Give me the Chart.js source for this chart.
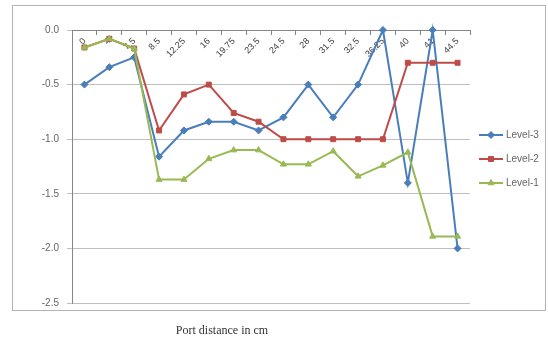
<!DOCTYPE html>
<html>
<head>
<meta charset="utf-8">
<script src="https://cdn.jsdelivr.net/npm/chart.js@4/dist/chart.umd.min.js"></script>
<style>
  html, body { margin: 0; padding: 0; background: #ffffff; }
  #wrap { position: relative; width: 548px; height: 343px; }
</style>
</head>
<body>
<div id="wrap"><canvas id="c" width="548" height="343"></canvas></div>
<script>
// Port positions along the duct (cm)
const categories = ["0", "4", "7.5", "8.5", "12.25", "16", "19.75", "23.5", "24.5", "28", "31.5", "32.5", "36.25", "40", "41", "44.5"];

// Measured values for each level
const level3 = [-0.5, -0.34, -0.25, -1.16, -0.92, -0.84, -0.84, -0.92, -0.8, -0.5, -0.8, -0.5, 0.0, -1.4, 0.0, -2.0];
const level2 = [-0.16, -0.08, -0.17, -0.92, -0.59, -0.5, -0.76, -0.84, -1.0, -1.0, -1.0, -1.0, -1.0, -0.3, -0.3, -0.3];
const level1 = [-0.16, -0.08, -0.17, -1.37, -1.37, -1.18, -1.1, -1.1, -1.23, -1.23, -1.11, -1.34, -1.24, -1.12, -1.89, -1.89];

const seriesNames = ["Level-3", "Level-2", "Level-1"];
const yTicks = [0, -0.5, -1.0, -1.5, -2.0, -2.5];
const xTitle = "Port distance in cm";

const BLUE = "#4A7EBB", RED = "#BE4B48", GREEN = "#98B954";

function series(label, data, color, style, radius, order) {
  return {
    label, data,
    borderColor: color, backgroundColor: color,
    borderWidth: 2,
    pointStyle: style, pointRadius: radius, pointHoverRadius: radius,
    pointBorderColor: color, pointBackgroundColor: color, pointBorderWidth: 1,
    tension: 0, clip: false, order
  };
}

// outer frame and the category-axis title
const framePlugin = {
  id: "frame",
  beforeDraw(chart) {
    const ctx = chart.ctx;
    ctx.save();
    ctx.fillStyle = "#ffffff";
    ctx.fillRect(0, 0, chart.width, chart.height);
    ctx.strokeStyle = "#b4b4b4";
    ctx.lineWidth = 1;
    ctx.strokeRect(12.5, 5.5, 533, 305);
    ctx.restore();
  },
  afterDraw(chart) {
    const ctx = chart.ctx;
    ctx.save();
    ctx.fillStyle = "#333333";
    ctx.font = "12px 'Liberation Serif', 'Times New Roman', serif";
    ctx.textAlign = "center";
    ctx.textBaseline = "middle";
    ctx.fillText(xTitle, 222, 331);
    ctx.restore();
  }
};

// side legend: line sample with marker, then the series name
const sideLegend = {
  id: "sideLegend",
  afterDraw(chart) {
    const ctx = chart.ctx;
    const x0 = 479, x1 = 503, textX = 506, yStart = 135, step = 24;
    ctx.save();
    chart.data.datasets.forEach((ds, i) => {
      const y = yStart + i * step;
      ctx.strokeStyle = ds.borderColor;
      ctx.lineWidth = 2;
      ctx.beginPath();
      ctx.moveTo(x0, y);
      ctx.lineTo(x1, y);
      ctx.stroke();
      ctx.fillStyle = ds.pointBackgroundColor;
      ctx.strokeStyle = ds.pointBorderColor;
      ctx.lineWidth = 1;
      Chart.helpers.drawPoint(ctx, { pointStyle: ds.pointStyle, radius: ds.pointRadius, rotation: 0, borderWidth: 1 }, (x0 + x1) / 2, y);
      ctx.fillStyle = "#666666";
      ctx.font = "10px 'Liberation Sans', Arial, sans-serif";
      ctx.textAlign = "left";
      ctx.textBaseline = "middle";
      ctx.fillText(ds.label, textX, y);
    });
    ctx.restore();
  }
};

new Chart(document.getElementById("c"), {
  type: "line",
  data: {
    labels: categories,
    datasets: [
      series(seriesNames[0], level3, BLUE, "rectRot", 3.5, 2),
      series(seriesNames[1], level2, RED, "rect", 3.5, 1),
      series(seriesNames[2], level1, GREEN, "triangle", 3.5, 0)
    ]
  },
  options: {
    responsive: false,
    animation: false,
    layout: { padding: { left: 0, top: 30, right: 78, bottom: 40 } },
    plugins: {
      legend: { display: false },
      tooltip: { enabled: false }
    },
    scales: {
      y: {
        min: -2.5, max: 0,
        afterFit(scale) { scale.width = 72; },
        afterBuildTicks(scale) { scale.ticks = yTicks.map(v => ({ value: v })); },
        ticks: {
          callback: v => Number(v).toFixed(1),
          color: "#666666",
          font: { family: "'Liberation Sans', Arial, sans-serif", size: 10 },
          padding: 8
        },
        grid: { color: "#bfbfbf", lineWidth: 1, tickLength: 5, drawTicks: true },
        border: { display: true, color: "#868686", width: 1 }
      },
      x: {
        type: "category",
        position: { y: 0 },
        offset: true,
        ticks: {
          autoSkip: false,
          minRotation: 45, maxRotation: 45,
          color: "#404040",
          font: { family: "'Liberation Sans', Arial, sans-serif", size: 9 },
          padding: 2
        },
        grid: { display: true, drawOnChartArea: false, drawTicks: true, tickLength: 4, offset: true, color: "#868686" },
        border: { display: true, color: "#868686", width: 1 }
      }
    }
  },
  plugins: [framePlugin, sideLegend]
});
</script>
</body>
</html>
